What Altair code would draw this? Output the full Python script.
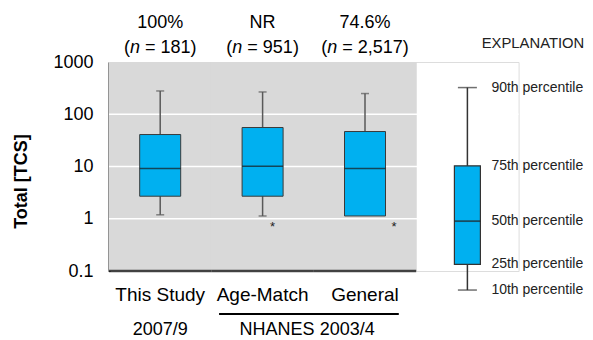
import altair as alt
import pandas as pd

# ---------------- data ----------------
categories = ["This Study", "Age-Match", "General"]
p10 = [1.19, 1.13, 1.13]
p25 = [2.7, 2.7, 1.13]
p50 = [9.2, 10.1, 9.2]
p75 = [40.9, 55.7, 46.7]
p90 = [279, 267, 249]

detection = ["100%", "NR", "74.6%"]
sample_n = ["181", "951", "2,517"]

outlier_cats = ["Age-Match", "General"]
outlier_vals = [0.81, 0.81]

y_domain = [0.1, 1000]
y_ticks = [0.1, 1, 10, 100, 1000]
grid_vals = [1, 10, 100]

expl_key = "EXPLANATION"
expl_labels = ["10th percentile", "25th percentile", "50th percentile",
               "75th percentile", "90th percentile"]
# illustrative positions of the explanation box, on the same log axis
expl_vals = [0.0432, 0.134, 0.90, 10.3, 324]

period_left = "2007/9"
period_right = "NHANES 2003/4"
underline_from = "Age-Match"
underline_to = "General"

# ---------------- layout / style ----------------
FONT = "Liberation Sans"
W = 409.6
H = 209
BOX_FILL = "#00B0F0"

boxes = pd.DataFrame({"cat": categories, "p10": p10, "p25": p25,
                      "p50": p50, "p75": p75, "p90": p90})
cats_df = pd.DataFrame({"cat": categories, "top": [y_domain[1]] * 3,
                        "bottom": [y_domain[0]] * 3})
grid_df = pd.DataFrame({"v": grid_vals})
expl = pd.DataFrame({"cat": [expl_key], "p10": [expl_vals[0]], "p25": [expl_vals[1]],
                     "p50": [expl_vals[2]], "p75": [expl_vals[3]], "p90": [expl_vals[4]]})
expl_text = pd.DataFrame({"cat": [expl_key] * 5, "label": expl_labels, "v": expl_vals})

xscale = alt.Scale(domain=categories + [expl_key], paddingInner=0, paddingOuter=0)
yscale = alt.Scale(type="log", domain=y_domain, nice=False)

x_axis = alt.Axis(title=None, domain=False, ticks=False, tickSize=0, labelAngle=0,
                  grid=False,
                  labelFontSize=19, labelColor="black", labelFont=FONT,
                  labelPadding=29.5, labelBaseline="alphabetic",
                  labelExpr="datum.value == 'EXPLANATION' ? '' : datum.label")
y_axis = alt.Axis(values=y_ticks, format="~g", grid=False, ticks=False, tickSize=0,
                  domain=True, domainColor="black", domainWidth=2.5,
                  labelFontSize=18, labelColor="black", labelFont=FONT, labelPadding=16,
                  title="Total [TCS]", titleFontSize=18, titleFontWeight="bold",
                  titleColor="black", titleFont=FONT, titleX=-83, titleY=119,
                  titleBaseline="alphabetic")


def X(field="cat", **kw):
    return alt.X(f"{field}:N", scale=xscale, axis=x_axis, **kw)


def Yq(field):
    return alt.Y(f"{field}:Q", scale=yscale, axis=y_axis)


background = alt.Chart(cats_df).mark_bar(size=103.5, color="#D9D9D9").encode(
    x=X(), y=Yq("top"), y2="bottom:Q")

grid = alt.Chart(grid_df).mark_rule(color="white", strokeWidth=1.5).encode(y=Yq("v"))

whisk = alt.Chart(boxes).mark_rule(color="#595959", strokeWidth=1.5).encode(
    x=X(), y=Yq("p10"), y2="p90:Q")
cap_hi = alt.Chart(boxes).mark_tick(size=8, thickness=1.5, color="#595959").encode(
    x=X(), y=Yq("p90"))
cap_lo = alt.Chart(boxes).transform_filter("datum.p10 < datum.p25").mark_tick(
    size=8, thickness=1.5, color="#595959").encode(x=X(), y=Yq("p10"))
box = alt.Chart(boxes).mark_bar(size=41, fill=BOX_FILL, stroke="#3a3a3a",
                                strokeWidth=1).encode(x=X(), y=Yq("p25"), y2="p75:Q")
med = alt.Chart(boxes).mark_tick(size=41, thickness=1.5, color="#1a1a1a").encode(
    x=X(), y=Yq("p50"))

bottom_line = alt.Chart(cats_df).mark_tick(size=102.4, thickness=2.5, color="black").encode(
    x=X(), y=Yq("bottom"))

layers = [background, grid, whisk, cap_hi, cap_lo, box, med, bottom_line]

# outlier stars
star_dx = {"Age-Match": 10, "General": 29}
for c, v in zip(outlier_cats, outlier_vals):
    d = pd.DataFrame({"cat": [c], "v": [v]})
    layers.append(alt.Chart(d).mark_text(text="*", fontSize=13, font=FONT, color="#222",
                                          baseline="middle", dx=star_dx[c], dy=3)
                  .encode(x=X(), y=Yq("v")))

# top annotations
CW = {'(': 0.333, ')': 0.333, ' ': 0.278, '=': 0.584, ',': 0.278, 'n': 0.556}


def tw(s, size):
    return sum(CW.get(ch, 0.556) for ch in s) * size


FS = 18
for c, det, n in zip(categories, detection, sample_n):
    d = pd.DataFrame({"cat": [c]})
    rest = "= " + n + ")"
    w_p, w_n, w_s, w_r = tw("(", FS), tw("n", FS), tw(" ", FS), tw(rest, FS)
    left_n = -(w_p + w_n + w_s + w_r) / 2 + w_p
    base = dict(fontSize=FS, font=FONT, color="black", baseline="alphabetic")
    layers.append(alt.Chart(d).mark_text(text=det, align="center", y=-33.7, **base)
                  .encode(x=X()))
    layers.append(alt.Chart(d).mark_text(text="(", align="right", dx=left_n, y=-9.3, **base)
                  .encode(x=X()))
    layers.append(alt.Chart(d).mark_text(text="n", align="left", dx=left_n, y=-9.3,
                                          fontStyle="italic", **base).encode(x=X()))
    layers.append(alt.Chart(d).mark_text(text=rest, align="left", dx=left_n + w_n + w_s,
                                          y=-9.3, **base).encode(x=X()))

# period labels and underline
BOT_Y = H + 63.5
layers.append(alt.Chart(pd.DataFrame({"cat": [categories[0]]})).mark_text(
    text=period_left, fontSize=18, font=FONT, color="black", baseline="alphabetic",
    y=BOT_Y).encode(x=X()))
layers.append(alt.Chart(pd.DataFrame({"cat": [underline_from]})).mark_text(
    text=period_right, fontSize=18, font=FONT, color="black", baseline="alphabetic",
    y=BOT_Y).encode(x=X(bandPosition=0.935)))
layers.append(alt.Chart(pd.DataFrame({"a": [underline_from], "b": [underline_to]})).mark_rule(
    color="black", strokeWidth=2, y=H + 43).encode(
    x=alt.X("a:N", scale=xscale, axis=x_axis, bandPosition=0.075),
    x2=alt.X2("b:N", bandPosition=0.83)))

# explanation panel
layers.append(alt.Chart(expl).mark_rule(color="#333", strokeWidth=1.5).encode(
    x=X(), y=Yq("p10"), y2="p90:Q"))
layers.append(alt.Chart(expl).mark_tick(size=19, thickness=1.5, color="#333").encode(
    x=X(), y=Yq("p90")))
layers.append(alt.Chart(expl).mark_tick(size=19, thickness=1.5, color="#333").encode(
    x=X(), y=Yq("p10")))
layers.append(alt.Chart(expl).mark_bar(size=26, fill=BOX_FILL, stroke="#333",
                                       strokeWidth=1.2).encode(x=X(), y=Yq("p25"), y2="p75:Q"))
layers.append(alt.Chart(expl).mark_tick(size=26, thickness=1.8, color="#222").encode(
    x=X(), y=Yq("p50")))
layers.append(alt.Chart(expl_text).mark_text(align="left", baseline="middle", dx=24,
                                             fontSize=14, font=FONT, color="#222").encode(
    x=X(), y=Yq("v"), text="label:N"))
layers.append(alt.Chart(pd.DataFrame({"cat": [expl_key]})).mark_text(
    text=expl_key, align="center", baseline="alphabetic", dx=65.6, y=-13.7,
    fontSize=14.8, font=FONT, color="#222").encode(x=X()))

chart = alt.layer(*layers).properties(
    width=W, height=H,
    autosize=alt.AutoSizeParams(type="none"),
    padding={"left": 101, "top": 54, "right": 66.4, "bottom": 67},
).configure_view(stroke=None).configure(background="white")

chart.save("out.html", embed_options={"renderer": "svg", "actions": False})
